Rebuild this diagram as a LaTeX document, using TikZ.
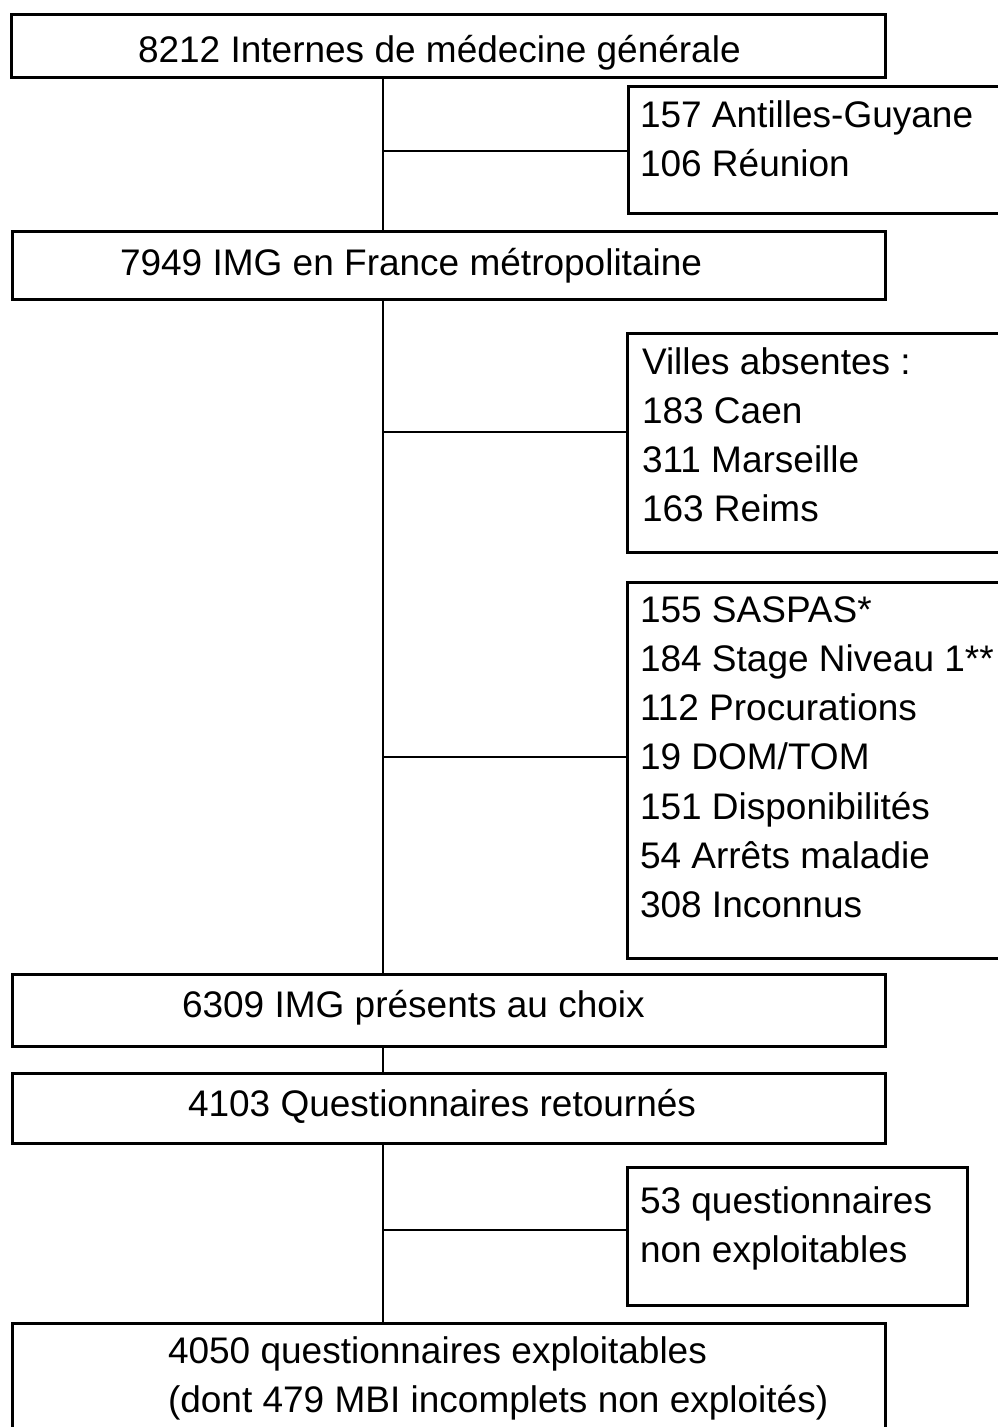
\documentclass[tikz,border=0pt]{standalone}
\usepackage{fontspec}
\setmainfont{Liberation Sans}
\begin{document}
\begin{tikzpicture}[x=1pt,y=-1pt,
  mainbox/.style={draw=black,line width=3pt,rectangle,inner sep=0pt,outer sep=0pt},
  conn/.style={draw=black,line width=1.5pt},
  txt/.style={inner sep=0pt,outer sep=0pt,anchor=base west,font=\fontsize{37}{49.3}\selectfont}]
\useasboundingbox (0,0) rectangle (998,1427);
\clip (0,0) rectangle (998,1427);
% main column boxes
\node[mainbox,minimum width=874pt,minimum height=63pt] (b1) at (448,45.5) {};
\node[mainbox,minimum width=873pt,minimum height=68pt] (b2) at (448.5,265) {};
\node[mainbox,minimum width=873pt,minimum height=72pt] (b3) at (448.5,1010) {};
\node[mainbox,minimum width=873pt,minimum height=70pt] (b4) at (448.5,1108) {};
\node[mainbox,minimum width=873pt,minimum height=117pt] (b5) at (448.5,1381.5) {};
% side boxes
\node[mainbox,minimum width=382pt,minimum height=127pt] (s1) at (819,149.5) {};
\node[mainbox,minimum width=383pt,minimum height=219pt] (s2) at (818.5,442.5) {};
\node[mainbox,minimum width=383pt,minimum height=376pt] (s3) at (818.5,770) {};
\node[mainbox,minimum width=340pt,minimum height=138pt] (s4) at (797,1236) {};
% texts
\node[txt] (t1) at (138,62) {8212 Internes de médecine générale};
\node[txt] (t2) at (120,275) {7949 IMG en France métropolitaine};
\node[txt] (t3) at (182,1017) {6309 IMG présents au choix};
\node[txt] (t4) at (188,1116) {4103 Questionnaires retournés};
\node[txt] (t5) at (168,1363) {\begin{tabular}[t]{@{}l@{}}4050 questionnaires exploitables\\(dont 479 MBI incomplets non exploités)\end{tabular}};
\node[txt] (ts1) at (640,127) {\begin{tabular}[t]{@{}l@{}}157 Antilles-Guyane\\106 Réunion\end{tabular}};
\node[txt] (ts2) at (642,374) {\begin{tabular}[t]{@{}l@{}}Villes absentes :\\183 Caen\\311 Marseille\\163 Reims\end{tabular}};
\node[txt] (ts3) at (640,622) {\begin{tabular}[t]{@{}l@{}}155 SASPAS*\\184 Stage Niveau 1**\\112 Procurations\\19 DOM/TOM\\151 Disponibilités\\54 Arrêts maladie\\308 Inconnus\end{tabular}};
\node[txt] (ts4) at (640,1213) {\begin{tabular}[t]{@{}l@{}}53 questionnaires\\non exploitables\end{tabular}};
% spine and connectors
\coordinate (spine) at (383,0);
\draw[conn] (b1.south -| spine) -- (b2.north -| spine);
\draw[conn] (b2.south -| spine) -- (b3.north -| spine);
\draw[conn] (b3.south -| spine) -- (b4.north -| spine);
\draw[conn] (b4.south -| spine) -- (b5.north -| spine);
\coordinate (c1) at (383,151);
\coordinate (c2) at (383,432);
\coordinate (c3) at (383,757);
\coordinate (c4) at (383,1230);
\draw[conn] (c1) -- (c1 -| s1.west);
\draw[conn] (c2) -- (c2 -| s2.west);
\draw[conn] (c3) -- (c3 -| s3.west);
\draw[conn] (c4) -- (c4 -| s4.west);
\end{tikzpicture}
\end{document}
